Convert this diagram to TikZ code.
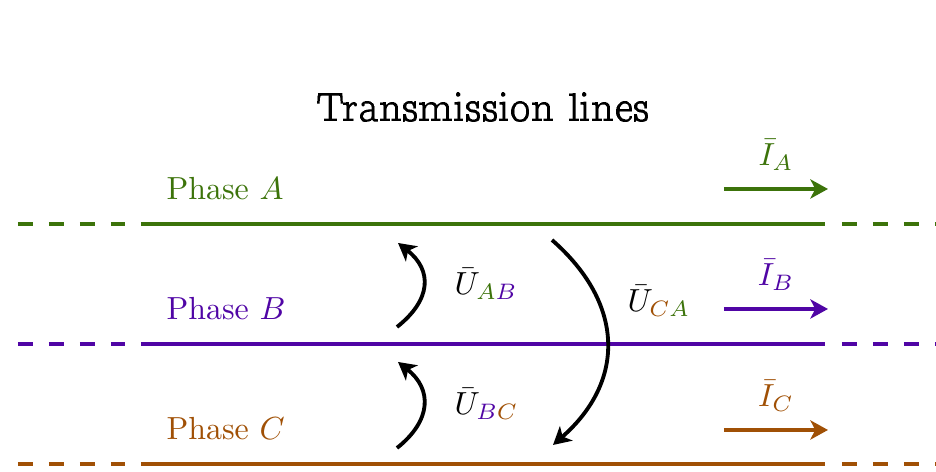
\documentclass[tikz,border=0pt]{standalone}
\usepackage{tikz}
\usetikzlibrary{arrows.meta, positioning, calc}
\definecolor{phA}{RGB}{60,115,10}
\definecolor{phB}{RGB}{80,5,165}
\definecolor{phC}{RGB}{160,80,5}

\begin{document}
\begin{tikzpicture}[
  line/.style={line width=1.2pt},
  dashline/.style={line width=1.2pt, dash pattern=on 4.7pt off 5pt},
  tip/.style={-{Stealth[length=5.5pt, width=6pt, inset=1.5pt]}},
]
  \useasboundingbox (0,0) rectangle (10.296,5.192);

  % Title
  \node[font=\usefont{OT1}{ccr}{m}{n}\large, anchor=base] (title) at (5.313,3.85) {\scalebox{1.085}{Transmission lines}};

  % Phases: line, label, current
  \foreach \ph/\col/\y/\yi in {A/phA/2.728/3.113, B/phB/1.408/1.793, C/phC/0.088/0.462}{
    \draw[dashline, \col] (0.198,\y) -- (1.375,\y);
    \draw[line, \col] (1.551,\y) -- (9.075,\y);
    \draw[dashline, \col] (9.262,\y) -- (10.5,\y);
    \node[text=\col, anchor=base west, inner sep=0pt] (phase\ph) at (1.826,\y+0.27) {Phase $\ph$};
    \coordinate (i\ph s) at (7.964,\yi);
    \coordinate (i\ph e) at (9.108,\yi);
    \draw[line, tip, \col] (i\ph s) -- (i\ph e)
      node[midway, above=2pt, text=\col] (cur\ph) {$\bar I_{\ph}$};
  }

  % Line voltages
  \coordinate (ab0) at (4.367,1.595);
  \coordinate (ab1) at (4.378,2.519);
  \coordinate (bc0) at (4.367,0.264);
  \coordinate (bc1) at (4.378,1.210);
  \coordinate (ca0) at (6.072,2.552);
  \coordinate (ca1) at (6.083,0.297);
  \draw[line, tip] (ab0) .. controls +(0.38,0.3) and +(0.38,-0.3) .. (ab1);
  \draw[line, tip] (bc0) .. controls +(0.38,0.3) and +(0.38,-0.3) .. (bc1);
  \draw[line, tip] (ca0) .. controls +(0.8,-0.7) and +(0.8,0.7) .. (ca1);

  \node[anchor=base west, inner sep=0pt] (uab) at (4.994,1.947) {$\bar U_{\textcolor{phA}{A}\textcolor{phB}{B}}$};
  \node[anchor=base west, inner sep=0pt] (ubc) at (4.994,0.627) {$\bar U_{\textcolor{phB}{B}\textcolor{phC}{C}}$};
  \node[anchor=base west, inner sep=0pt] (uca) at (6.897,1.760) {$\bar U_{\textcolor{phC}{C}\textcolor{phA}{A}}$};
\end{tikzpicture}
\end{document}
